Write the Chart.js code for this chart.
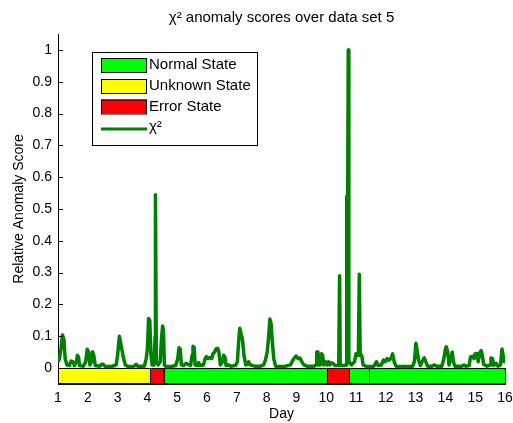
<!DOCTYPE html>
<html>
<head>
<meta charset="utf-8">
<script src="https://cdn.jsdelivr.net/npm/chart.js@4"></script>
<style>
  html, body { margin: 0; padding: 0; background: #fff; }
  #wrap { width: 513px; height: 423px; position: relative; }
</style>
</head>
<body>
<div id="wrap"><canvas id="chart" width="513" height="423"></canvas></div>
<script>
// chi^2 anomaly score
const days = [
  1.00, 1.05, 1.10, 1.15, 1.20, 1.24, 1.30, 1.38, 1.44, 1.50, 1.55, 1.62, 1.65, 1.69, 1.72, 1.85, 1.93, 1.98,
  2.03, 2.07, 2.12, 2.16, 2.20, 2.25, 2.40, 2.47, 2.52, 2.58, 2.80, 2.95, 3.00, 3.06, 3.10, 3.14, 3.20, 3.26,
  3.35, 3.55, 3.62, 3.68, 3.90, 3.96, 4.00, 4.04, 4.08, 4.12, 4.16, 4.22, 4.26, 4.27, 4.30, 4.36, 4.43, 4.47,
  4.51, 4.54, 4.57, 4.62, 4.80, 4.95, 5.02, 5.06, 5.10, 5.14, 5.22, 5.30, 5.36, 5.45, 5.50, 5.53, 5.57, 5.60,
  5.68, 5.72, 5.76, 5.88, 5.94, 5.98, 6.04, 6.10, 6.16, 6.20, 6.25, 6.30, 6.36, 6.40, 6.45, 6.52, 6.56, 6.60,
  6.64, 6.72, 6.80, 6.95, 7.02, 7.06, 7.10, 7.14, 7.19, 7.24, 7.30, 7.36, 7.40, 7.45, 7.60, 7.80, 7.90, 7.96,
  8.02, 8.07, 8.11, 8.15, 8.19, 8.24, 8.30, 8.60, 8.80, 8.88, 8.94, 8.99, 9.05, 9.12, 9.18, 9.25, 9.35, 9.60,
  9.66, 9.68, 9.72, 9.75, 9.80, 9.84, 9.88, 9.92, 9.98, 10.03, 10.08, 10.12, 10.18, 10.22, 10.30, 10.42, 10.45,
  10.47, 10.60, 10.67, 10.69, 10.72, 10.74, 10.76, 10.85, 10.95, 11.00, 11.04, 11.08, 11.11, 11.14, 11.19,
  11.24, 11.35, 11.60, 11.69, 11.74, 11.85, 11.92, 11.98, 12.04, 12.10, 12.17, 12.23, 12.28, 12.34, 12.60,
  12.90, 12.96, 13.01, 13.06, 13.10, 13.16, 13.22, 13.29, 13.34, 13.40, 13.55, 13.64, 13.70, 13.88, 13.95,
  14.00, 14.03, 14.08, 14.12, 14.18, 14.23, 14.27, 14.32, 14.55, 14.62, 14.68, 14.80, 14.84, 14.90, 14.96,
  15.00, 15.05, 15.10, 15.16, 15.20, 15.24, 15.28, 15.40, 15.50, 15.53, 15.58, 15.62, 15.70, 15.76, 15.85,
  15.90, 15.93, 15.97, 16.00
];
const scores = [
  0.02, 0.03, 0.06, 0.104, 0.09, 0.03, 0.01, 0.008, 0.022, 0.02, 0.008, 0.02, 0.04, 0.035, 0.008, 0.006, 0.02, 0.059,
  0.05, 0.01, 0.02, 0.051, 0.04, 0.008, 0.006, 0.012, 0.012, 0.005, 0.005, 0.01, 0.04, 0.10, 0.08, 0.06, 0.03, 0.01,
  0.005, 0.006, 0.012, 0.006, 0.006, 0.03, 0.06, 0.156, 0.15, 0.04, 0.01, 0.01, 0.10, 0.545, 0.02, 0.01, 0.02, 0.09,
  0.132, 0.12, 0.01, 0.005, 0.005, 0.008, 0.03, 0.064, 0.06, 0.01, 0.008, 0.015, 0.012, 0.008, 0.04, 0.069, 0.065, 0.01,
  0.008, 0.017, 0.008, 0.01, 0.03, 0.036, 0.03, 0.033, 0.03, 0.045, 0.05, 0.06, 0.062, 0.05, 0.01, 0.02, 0.04, 0.035,
  0.008, 0.01, 0.006, 0.008, 0.02, 0.08, 0.125, 0.11, 0.09, 0.04, 0.01, 0.012, 0.02, 0.01, 0.006, 0.006, 0.01, 0.025,
  0.05, 0.10, 0.154, 0.14, 0.085, 0.03, 0.006, 0.005, 0.01, 0.025, 0.033, 0.038, 0.03, 0.032, 0.02, 0.01, 0.006, 0.006,
  0.01, 0.05, 0.051, 0.01, 0.01, 0.045, 0.04, 0.01, 0.02, 0.01, 0.02, 0.01, 0.017, 0.015, 0.008, 0.008, 0.29,
  0.008, 0.008, 0.01, 0.54, 0.50, 1.0, 0.02, 0.01, 0.02, 0.045, 0.04, 0.04, 0.295, 0.04, 0.04,
  0.01, 0.005, 0.006, 0.02, 0.008, 0.01, 0.025, 0.02, 0.03, 0.025, 0.03, 0.045, 0.02, 0.006, 0.005,
  0.006, 0.02, 0.078, 0.05, 0.025, 0.008, 0.02, 0.032, 0.02, 0.006, 0.006, 0.01, 0.006, 0.006, 0.03,
  0.06, 0.067, 0.05, 0.01, 0.03, 0.05, 0.02, 0.006, 0.006, 0.01, 0.006, 0.008, 0.035, 0.037, 0.03,
  0.045, 0.046, 0.02, 0.05, 0.055, 0.04, 0.012, 0.006, 0.01, 0.032, 0.03, 0.008, 0.015, 0.006, 0.01,
  0.06, 0.06, 0.02, 0.02
];

// state periods (day ranges)
const stateStart = [1.00, 4.10, 4.55, 10.02, 10.78, 11.44];
const stateEnd   = [4.10, 4.55, 10.02, 10.78, 11.44, 16.00];
const stateKind  = ['Unknown', 'Error', 'Normal', 'Error', 'Normal', 'Normal'];

const xTicks = [1, 2, 3, 4, 5, 6, 7, 8, 9, 10, 11, 12, 13, 14, 15, 16];
const yTicks = [0, 0.1, 0.2, 0.3, 0.4, 0.5, 0.6, 0.7, 0.8, 0.9, 1];
const legendLabels = ['Normal State', 'Unknown State', 'Error State', 'χ²'];

const FONT = "'Liberation Sans', Arial, Helvetica, sans-serif";
const stateColor = { Normal: '#00ff00', Unknown: '#ffff00', Error: '#ff0000' };
const lineColor = '#008000';

const extrasPlugin = {
  id: 'extras',
  beforeDatasetsDraw(chart) {
    const ctx = chart.ctx, x = chart.scales.x, y = chart.scales.y;
    const top = y.getPixelForValue(0), bot = y.getPixelForValue(-0.05);
    ctx.save();
    ctx.lineWidth = 1;
    ctx.strokeStyle = '#000';
    stateStart.forEach((s, i) => {
      const x0 = x.getPixelForValue(s), x1 = x.getPixelForValue(stateEnd[i]);
      ctx.fillStyle = stateColor[stateKind[i]];
      ctx.fillRect(x0, top, x1 - x0, bot - top);
      ctx.strokeRect(Math.round(x0) + 0.5, Math.round(top) + 0.5, Math.round(x1 - x0), Math.round(bot - top) - 1);
    });
    ctx.restore();
  },
  afterDraw(chart) {
    const ctx = chart.ctx, y = chart.scales.y, area = chart.chartArea;
    ctx.save();
    // inward y ticks
    ctx.strokeStyle = '#000';
    ctx.lineWidth = 1;
    yTicks.forEach(v => {
      const py = Math.round(y.getPixelForValue(v)) + 0.5;
      ctx.beginPath();
      ctx.moveTo(area.left, py);
      ctx.lineTo(area.left + 5, py);
      ctx.stroke();
    });
    // title
    ctx.fillStyle = '#000';
    ctx.font = '15px ' + FONT;
    ctx.textAlign = 'center';
    ctx.textBaseline = 'middle';
    ctx.fillText('χ² anomaly scores over data set 5', (area.left + area.right) / 2, 18);

    // legend
    const lx = 92, ly = 52, lw = 165, lh = 93;
    ctx.fillStyle = '#fff';
    ctx.fillRect(lx, ly, lw, lh);
    ctx.strokeStyle = '#000';
    ctx.strokeRect(lx + 0.5, ly + 0.5, lw, lh);
    const rowY = [65, 86, 106.5, 127];
    const swatches = [stateColor.Normal, stateColor.Unknown, stateColor.Error];
    ctx.textAlign = 'left';
    legendLabels.forEach((lab, i) => {
      const cy = rowY[i];
      if (i < 3) {
        ctx.fillStyle = swatches[i];
        ctx.fillRect(101, cy - 7, 46, 14);
        ctx.strokeStyle = '#000';
        ctx.strokeRect(101.5, cy - 6.5, 45, 14);
      } else {
        ctx.strokeStyle = lineColor;
        ctx.lineWidth = 3;
        ctx.beginPath();
        ctx.moveTo(101, cy + 2);
        ctx.lineTo(147, cy + 2);
        ctx.stroke();
        ctx.lineWidth = 1;
      }
      ctx.fillStyle = '#000';
      ctx.fillText(lab, 149, cy);
    });
    ctx.restore();
  }
};

new Chart(document.getElementById('chart'), {
  type: 'line',
  data: {
    datasets: [{
      label: 'χ²',
      data: days.map((d, i) => ({ x: d, y: scores[i] })),
      borderColor: lineColor,
      borderWidth: 3.5,
      pointRadius: 0,
      tension: 0,
      fill: false,
      borderJoinStyle: 'round'
    }]
  },
  options: {
    responsive: false,
    animation: false,
    layout: { padding: { top: 34, right: 0, left: 0, bottom: 0 } },
    plugins: { legend: { display: false }, title: { display: false }, tooltip: { enabled: false } },
    scales: {
      x: {
        type: 'linear', min: 1, max: 16,
        afterBuildTicks: s => { s.ticks = xTicks.map(v => ({ value: v })); },
        afterFit: s => { s.height = 39; s.paddingRight = 8; s.paddingLeft = 0; },
        grid: { display: false, drawTicks: false },
        border: { display: true, color: '#000', width: 1 },
        ticks: { color: '#000', font: { family: FONT, size: 14 }, padding: 6, maxRotation: 0 },
        title: { display: true, text: 'Day', color: '#000', font: { family: FONT, size: 14 }, padding: { top: 0, bottom: 0 } }
      },
      y: {
        min: -0.05, max: 1.05,
        afterBuildTicks: s => { s.ticks = yTicks.map(v => ({ value: v })); },
        afterFit: s => { s.width = 58; },
        grid: { display: false, drawTicks: false },
        border: { display: true, color: '#000', width: 1 },
        ticks: { color: '#000', font: { family: FONT, size: 14 }, padding: 6, callback: v => String(+v.toFixed(1)) },
        title: { display: true, text: 'Relative Anomaly Score', color: '#000', font: { family: FONT, size: 14 }, padding: { top: 11, bottom: 0 } }
      }
    }
  },
  plugins: [extrasPlugin]
});
</script>
</body>
</html>
